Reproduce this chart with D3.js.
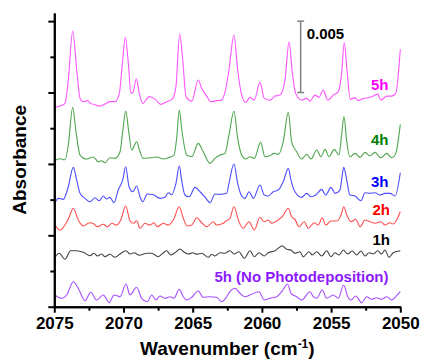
<!DOCTYPE html>
<html><head><meta charset="utf-8">
<script src="https://cdn.jsdelivr.net/npm/d3@7"></script>
<style>
html,body{margin:0;padding:0;background:#fff;}
svg{display:block;font-family:Arial,"Liberation Sans",Helvetica,sans-serif;}
</style></head>
<body>
<script>
// Wavenumber (cm^-1), absorbance (x 10^-3, offset/stacked as displayed)
const spec5h = [[2075.0,13.96],[2074.6,14.05],[2074.23,14.24],[2073.99,15.88],[2073.67,19.31],[2073.38,16.58],[2073.14,14.59],[2072.9,14.36],[2072.6,14.43],[2072.4,14.24],[2072.05,14.15],[2071.75,14.05],[2071.34,14.19],[2070.98,14.36],[2070.61,14.36],[2070.30,14.94],[2070.06,17.28],[2069.87,18.87],[2069.65,17.04],[2069.46,14.94],[2069.29,15.06],[2069.08,15.97],[2068.86,14.94],[2068.61,14.24],[2068.14,14.71],[2067.72,14.54],[2067.31,14.17],[2066.88,14.36],[2066.45,14.57],[2066.21,15.41],[2065.94,19.10],[2065.72,17.28],[2065.48,14.71],[2065.07,14.40],[2064.60,15.88],[2064.35,15.29],[2063.99,14.75],[2063.68,14.36],[2063.27,14.43],[2062.91,14.47],[2062.63,15.18],[2062.38,16.58],[2062.02,19.03],[2061.75,16.58],[2061.46,14.82],[2061.17,14.31],[2060.86,14.66],[2060.55,14.47],[2060.14,15.71],[2059.83,14.59],[2059.42,14.47],[2059.05,14.75],[2058.69,14.82],[2058.33,15.88],[2058.04,18.56],[2057.80,16.34],[2057.56,14.94],[2057.13,14.47],[2056.76,14.59],[2056.53,14.40],[2056.16,14.82],[2055.88,14.66],[2055.57,15.18],[2055.25,14.47],[2054.84,14.82],[2054.48,15.06],[2054.24,16.34],[2054.05,18.49],[2053.85,16.58],[2053.61,14.52],[2053.27,14.64],[2053.04,14.43],[2052.68,14.59],[2052.31,14.64],[2051.95,14.75],[2051.63,14.89],[2051.40,14.47],[2050.98,14.75],[2050.62,14.75],[2050.33,14.94],[2050.0,18.03]];
const spec4h = [[2075.0,10.22],[2074.6,10.36],[2074.23,10.29],[2073.99,11.32],[2073.67,13.96],[2073.43,12.25],[2073.14,10.62],[2072.66,10.34],[2072.18,10.48],[2071.82,10.15],[2071.58,10.22],[2071.34,10.08],[2070.98,10.43],[2070.61,10.39],[2070.25,10.85],[2070.06,12.25],[2069.84,13.70],[2069.62,12.25],[2069.41,10.97],[2069.05,11.55],[2068.81,10.85],[2068.57,10.39],[2068.09,10.43],[2067.60,10.48],[2067.12,10.34],[2066.76,10.43],[2066.35,10.62],[2066.16,11.79],[2065.97,13.77],[2065.77,12.25],[2065.43,10.62],[2065.07,10.50],[2064.60,11.44],[2064.24,10.85],[2063.75,10.04],[2063.39,10.39],[2063.03,10.62],[2062.67,10.74],[2062.38,12.02],[2062.02,13.70],[2061.75,11.79],[2061.46,10.62],[2061.17,10.34],[2060.86,10.50],[2060.55,10.39],[2060.09,11.51],[2059.78,10.50],[2059.42,10.57],[2059.11,10.74],[2058.82,10.67],[2058.46,11.55],[2058.09,13.61],[2057.85,11.55],[2057.49,10.85],[2057.13,10.34],[2056.76,10.67],[2056.45,10.34],[2056.04,10.97],[2055.73,10.50],[2055.44,11.02],[2055.15,10.50],[2054.77,11.02],[2054.43,10.62],[2054.24,12.02],[2054.07,13.31],[2053.87,11.55],[2053.64,10.50],[2053.27,10.74],[2052.91,10.46],[2052.55,10.81],[2052.19,10.57],[2051.83,10.81],[2051.40,10.43],[2050.98,10.74],[2050.62,10.43],[2050.33,10.74],[2050.0,12.77]];
const spec3h = [[2074.95,7.28],[2074.71,7.59],[2074.35,7.52],[2073.99,8.40],[2073.63,9.76],[2073.38,8.87],[2073.14,7.94],[2072.78,7.59],[2072.42,7.35],[2072.06,7.63],[2071.75,7.42],[2071.46,7.75],[2071.21,7.54],[2070.98,7.66],[2070.69,7.28],[2070.38,8.17],[2070.06,8.87],[2069.84,9.80],[2069.60,8.40],[2069.34,8.05],[2069.05,8.45],[2068.81,7.70],[2068.61,7.35],[2068.28,7.89],[2067.85,7.84],[2067.36,7.59],[2067.00,7.66],[2066.76,7.98],[2066.52,7.84],[2066.21,8.64],[2065.97,9.87],[2065.80,8.87],[2065.56,7.82],[2065.25,7.70],[2064.83,8.36],[2064.47,8.05],[2064.04,7.59],[2063.75,7.28],[2063.39,7.89],[2063.03,7.87],[2062.54,7.94],[2062.38,8.64],[2062.02,9.99],[2061.75,8.64],[2061.46,7.75],[2061.22,7.59],[2060.93,8.05],[2060.62,7.59],[2060.14,8.52],[2059.83,7.82],[2059.54,7.75],[2059.18,8.05],[2058.82,8.17],[2058.46,8.75],[2058.09,9.69],[2057.90,8.87],[2057.61,8.05],[2057.13,7.66],[2056.76,7.94],[2056.45,7.70],[2056.11,7.82],[2055.68,8.22],[2055.39,7.82],[2055.01,8.36],[2054.72,7.94],[2054.36,8.17],[2054.24,8.87],[2054.09,9.76],[2053.87,8.87],[2053.64,7.82],[2053.27,7.75],[2052.84,7.42],[2052.55,7.98],[2052.19,7.94],[2051.83,7.98],[2051.47,7.82],[2051.11,7.94],[2050.75,7.94],[2050.38,7.75],[2050.0,9.38]];
const spec2h = [[2074.95,5.72],[2074.59,5.37],[2074.23,5.72],[2073.92,6.30],[2073.63,6.89],[2073.27,6.07],[2072.90,5.65],[2072.47,5.88],[2072.13,5.79],[2071.89,5.60],[2071.46,5.77],[2071.17,5.60],[2070.85,5.84],[2070.49,5.72],[2070.20,6.07],[2069.84,7.05],[2069.53,6.02],[2069.29,5.84],[2069.05,6.02],[2068.81,5.49],[2068.45,5.84],[2068.09,5.72],[2067.80,5.88],[2067.56,5.60],[2067.12,5.84],[2066.76,5.72],[2066.40,6.07],[2065.97,7.00],[2065.68,6.19],[2065.39,5.65],[2065.07,5.72],[2064.71,6.23],[2064.35,5.88],[2063.99,5.60],[2063.51,5.95],[2063.27,5.72],[2062.79,5.84],[2062.67,5.95],[2062.31,6.19],[2062.02,7.00],[2061.66,5.95],[2061.35,5.49],[2060.93,5.95],[2060.55,5.37],[2060.14,6.26],[2059.83,5.95],[2059.54,6.07],[2059.29,5.84],[2058.93,6.00],[2058.53,6.30],[2058.09,6.89],[2057.85,6.30],[2057.61,6.12],[2057.32,5.60],[2056.94,5.95],[2056.65,5.49],[2056.22,5.88],[2055.93,5.72],[2055.64,6.23],[2055.39,5.72],[2055.01,6.00],[2054.60,6.00],[2054.24,6.54],[2054.09,7.00],[2053.87,6.42],[2053.56,5.95],[2053.22,6.12],[2052.91,5.60],[2052.55,6.07],[2052.19,5.95],[2051.83,5.84],[2051.40,5.95],[2051.11,5.72],[2050.75,5.88],[2050.51,5.79],[2050.0,6.65]];
const spec1h = [[2074.95,3.46],[2074.64,3.74],[2074.23,3.32],[2073.82,3.92],[2073.38,3.92],[2072.90,3.81],[2072.42,3.57],[2072.13,3.74],[2071.89,3.55],[2071.58,3.69],[2071.34,3.50],[2070.98,3.67],[2070.61,3.46],[2070.25,3.69],[2069.82,3.92],[2069.53,3.69],[2069.24,3.78],[2068.86,3.60],[2068.32,3.74],[2067.96,3.74],[2067.49,3.50],[2067.12,3.78],[2066.88,3.92],[2066.59,3.62],[2066.28,3.78],[2065.92,4.04],[2065.63,3.83],[2065.32,3.69],[2065.00,3.78],[2064.71,3.67],[2064.35,3.74],[2063.87,3.46],[2063.63,3.67],[2063.39,3.55],[2063.03,3.78],[2062.67,3.74],[2062.31,3.92],[2062.00,3.69],[2061.66,3.85],[2061.27,3.39],[2060.86,3.92],[2060.55,3.50],[2060.21,3.78],[2059.83,3.55],[2059.54,3.78],[2059.05,3.92],[2058.53,4.27],[2058.21,4.02],[2057.90,3.97],[2057.61,3.74],[2057.25,3.85],[2057.01,3.50],[2056.60,3.85],[2056.36,3.62],[2056.04,3.85],[2055.68,3.55],[2055.32,3.92],[2055.01,3.50],[2054.72,3.78],[2054.43,3.62],[2054.12,3.97],[2053.80,3.69],[2053.47,3.90],[2053.15,3.62],[2052.84,3.90],[2052.55,3.55],[2052.26,3.78],[2051.95,3.69],[2051.63,3.92],[2051.35,3.69],[2051.11,3.97],[2050.82,3.46],[2050.51,3.78],[2050.0,3.92]];
const spec5hNoPD = [[2074.95,0.82],[2074.47,0.59],[2074.10,0.82],[2073.63,1.75],[2073.27,1.29],[2072.78,0.42],[2072.37,1.01],[2071.94,0.47],[2071.46,0.82],[2071.03,0.28],[2070.69,0.82],[2070.25,0.70],[2069.82,1.59],[2069.53,0.82],[2069.05,1.36],[2068.69,0.59],[2068.28,0.35],[2067.96,0.82],[2067.65,0.47],[2067.36,0.75],[2067.00,0.59],[2066.64,0.70],[2066.35,0.59],[2065.97,1.22],[2065.68,0.70],[2065.43,0.47],[2065.07,0.66],[2064.60,1.10],[2064.24,0.66],[2063.80,0.70],[2063.27,0.66],[2062.91,0.35],[2062.54,0.70],[2062.31,1.05],[2061.94,1.29],[2061.58,0.94],[2061.22,0.70],[2060.86,0.82],[2060.21,1.05],[2059.83,0.47],[2059.42,0.59],[2058.93,0.70],[2058.57,1.05],[2058.14,1.57],[2057.90,0.94],[2057.49,0.70],[2057.13,0.47],[2056.53,1.05],[2056.29,0.70],[2056.04,0.59],[2055.64,1.17],[2055.32,0.59],[2054.84,0.82],[2054.48,0.59],[2054.09,1.52],[2053.80,0.70],[2053.56,0.47],[2053.22,0.75],[2052.79,0.28],[2052.43,0.70],[2052.07,0.52],[2051.71,0.63],[2051.35,0.52],[2050.98,0.70],[2050.62,0.47],[2050.33,0.70],[2050.0,1.05]];

const seriesNames  = ["5h", "4h", "3h", "2h", "1h", "5h (No Photodeposition)"];
const seriesData   = [spec5h, spec4h, spec3h, spec2h, spec1h, spec5hNoPD];
const lineColors   = ["#ff55ff", "#4fa64f", "#4d4dff", "#ff5050", "#444444", "#a64dff"];
const labelColors  = ["#ff00ff", "#008000", "#0000ff", "#ff0000", "#000000", "#8c1aff"];
const labelAnchorY = [15.2, 11.3, 8.4, 6.4, 4.3, 1.75]; // absorbance (x10^-3) of label baselines
const labelAnchorX = [2050.85, 2050.85, 2050.85, 2050.75, 2050.75, 2050.85];

const xDomain = [2075, 2050];
const xMajorTicks = [2075, 2070, 2065, 2060, 2055, 2050];
const xMinorTicks = [2072.5, 2067.5, 2062.5, 2057.5, 2052.5];
const yDomain = [0, 20.57];
const yMajorTicks = [0, 5, 10, 15, 20];
const yMinorTicks = [2.5, 7.5, 12.5, 17.5];
const scaleBarWn = 2057.2, scaleBarFrom = 15, scaleBarTo = 20, scaleBarLabel = "0.005";

const W = 422, H = 359;
const svg = d3.select("body").append("svg").attr("width", W).attr("height", H);

const x = d3.scaleLinear().domain(xDomain).range([54.3, 400.3]);
const y = d3.scaleLinear().domain(yDomain).range([306.7, 13]);

// lines
const line = d3.line().x(d => x(d[0])).y(d => y(d[1])).curve(d3.curveMonotoneX);
seriesData.forEach((s, i) => {
  svg.append("path").datum(s).attr("d", line)
    .attr("fill", "none").attr("stroke", lineColors[i]).attr("stroke-width", 1.1);
});

// axes
function styleAxis(g) {
  g.selectAll("path.domain").attr("stroke", "#000").attr("stroke-width", 2);
  g.selectAll(".tick line").attr("stroke", "#000").attr("stroke-width", 2);
}
const gx = svg.append("g").attr("transform", `translate(0,${y(0)})`)
  .call(d3.axisBottom(x).tickValues(xMajorTicks).tickSize(6).tickSizeOuter(0).tickPadding(4).tickFormat(d3.format("d")));
styleAxis(gx);
gx.selectAll(".tick text").attr("font-size", 17).attr("font-weight", "bold").attr("fill", "#000")
  .attr("font-family", "Arial, 'Liberation Sans', sans-serif");
const gx2 = svg.append("g").attr("transform", `translate(0,${y(0)})`)
  .call(d3.axisBottom(x).tickValues(xMinorTicks).tickSize(4).tickSizeOuter(0).tickFormat(""));
styleAxis(gx2);

const gy = svg.append("g").attr("transform", `translate(${x(2075)},0)`)
  .call(d3.axisLeft(y).tickValues(yMajorTicks).tickSize(6).tickSizeOuter(0).tickFormat(""));
styleAxis(gy);
const gy2 = svg.append("g").attr("transform", `translate(${x(2075)},0)`)
  .call(d3.axisLeft(y).tickValues(yMinorTicks).tickSize(4).tickSizeOuter(0).tickFormat(""));
styleAxis(gy2);

// axis titles
svg.append("text").attr("x", (x(2075) + x(2050)) / 2).attr("y", 355)
  .attr("text-anchor", "middle").attr("font-size", 19).attr("font-weight", "bold")
  .html('Wavenumber (cm<tspan dy="-7" font-size="12">-1</tspan><tspan dy="7">)</tspan>');
svg.append("text").attr("transform", `translate(26,${(y(yDomain[0]) + y(yDomain[1])) / 2}) rotate(-90)`)
  .attr("text-anchor", "middle").attr("font-size", 19).attr("font-weight", "bold").text("Absorbance");

// scale bar
const sb = svg.append("g").attr("stroke", "#808080").attr("stroke-width", 1.5);
sb.append("line").attr("x1", x(scaleBarWn)).attr("x2", x(scaleBarWn)).attr("y1", y(scaleBarTo)).attr("y2", y(scaleBarFrom));
[scaleBarTo, scaleBarFrom].forEach(v => sb.append("line")
  .attr("x1", x(scaleBarWn) - 3.5).attr("x2", x(scaleBarWn) + 3.5).attr("y1", y(v)).attr("y2", y(v)));
svg.append("text").attr("x", x(scaleBarWn) + 6).attr("y", y(scaleBarTo) + 18)
  .attr("font-size", 15).attr("font-weight", "bold").attr("fill", "#000").text(scaleBarLabel);

// series labels
seriesNames.forEach((n, i) => {
  svg.append("text").attr("x", x(labelAnchorX[i])).attr("y", y(labelAnchorY[i]))
    .attr("text-anchor", "end").attr("font-size", 15).attr("font-weight", "bold")
    .attr("fill", labelColors[i]).text(n);
});
</script>
</body></html>
